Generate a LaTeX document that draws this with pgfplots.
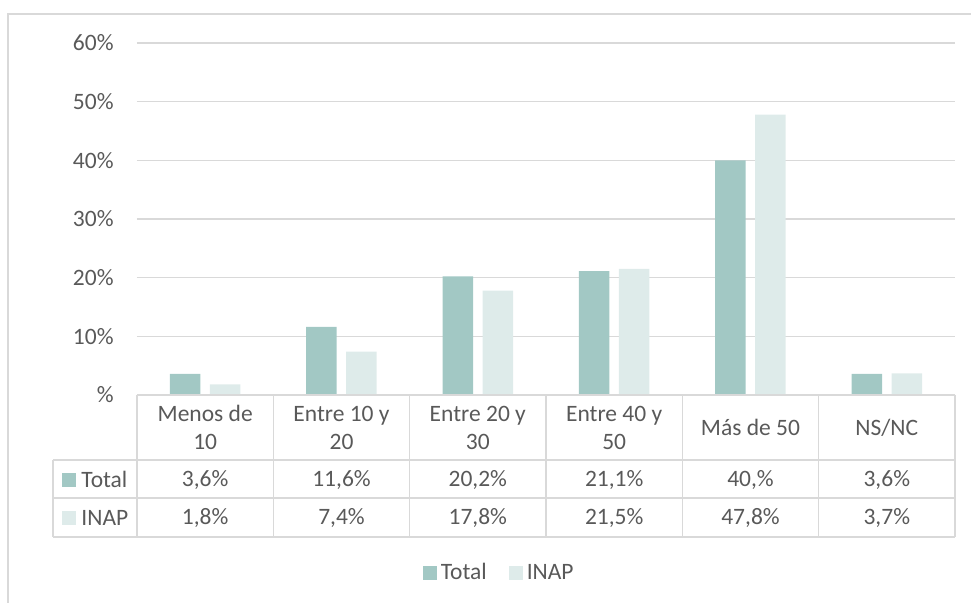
\documentclass[border=0pt]{standalone}
\usepackage{pgfplots}
\pgfplotsset{compat=1.18}
\usepackage{fontspec}
\setmainfont{Carlito}
\definecolor{totc}{HTML}{A2C8C4}
\definecolor{inapc}{HTML}{DEEBEA}
\definecolor{txt}{HTML}{595959}
\definecolor{grd}{HTML}{D9D9D9}
\newcommand{\f}{\fontsize{11.75}{14}\selectfont}
\begin{document}
\begin{tikzpicture}
\path[use as bounding box] (0,0) rectangle (485.5pt,-301.5pt);
% outer frame (left and top visible)
\draw[grd, line width=0.75pt] (4pt,-301.5pt) -- (4pt,-7pt) -- (485.5pt,-7pt);
\begin{axis}[
  at={(68.5pt,-197.5pt)}, anchor=south west,
  scale only axis, width=409pt, height=176pt,
  xmin=-0.5, xmax=5.5, ymin=0, ymax=60,
  xtick=\empty,
  ytick={0,10,...,60},
  yticklabels={\%,10\%,20\%,30\%,40\%,50\%,60\%},
  ymajorgrids, major grid style={draw=grd, line width=0.75pt},
  axis line style={draw=none},
  major tick length=0pt,
  /pgf/number format/assume math mode=true,
  yticklabel style={font=\f, text=txt, inner sep=0pt, xshift=-11.5pt},
  legend style={at={(0.444,-0.506)}, anchor=center, draw=none, fill=none,
    legend columns=2, font=\f, text=txt,
    /tikz/every even column/.append style={column sep=9pt}},
  legend cell align=left,
]
\addplot[ybar, bar shift=-10pt, bar width=15.25pt, fill=totc, draw=none,
  legend image code/.code={\fill[totc] (0pt,-3.5pt) rectangle (7pt,3.5pt);}]
  coordinates {(0,3.6) (1,11.6) (2,20.2) (3,21.1) (4,40.0) (5,3.6)};
\addplot[ybar, bar shift=10pt, bar width=15.25pt, fill=inapc, draw=none,
  legend image code/.code={\fill[inapc] (0pt,-3.5pt) rectangle (7pt,3.5pt);}]
  coordinates {(0,1.8) (1,7.4) (2,17.8) (3,21.5) (4,47.8) (5,3.7)};
\legend{Total, INAP}
\end{axis}
\begin{scope}[x=0.5pt, y=-0.5pt]
  % table lines
  \draw[grd, line width=0.75pt] (137,395) -- (955,395);
  \foreach \yy in {460,498,537} \draw[grd, line width=0.75pt] (53,\yy) -- (955,\yy);
  \draw[grd, line width=0.75pt] (53,460) -- (53,537);
  \foreach \xx in {137,273.33,409.67,546,682.33,818.67,955}
    \draw[grd, line width=0.75pt] (\xx,395) -- (\xx,537);
  % header
  \tikzset{cell/.style={font=\f, text=txt, align=center, inner sep=0pt}}
  \node[cell] at (205.2,427.5) {Menos de\\10};
  \node[cell] at (341.5,427.5) {Entre 10 y\\20};
  \node[cell] at (477.8,427.5) {Entre 20 y\\30};
  \node[cell] at (614.2,427.5) {Entre 40 y\\50};
  \node[cell] at (750.5,427.5) {Más de 50};
  \node[cell] at (886.8,427.5) {NS/NC};
  % rows
  \fill[totc] (62,473) rectangle (76,487);
  \node[cell, anchor=west] at (81,479.5) {Total};
  \fill[inapc] (62,511) rectangle (76,525);
  \node[cell, anchor=west] at (81,517.5) {INAP};
  \foreach \xx/\v in {205.2/3{,}6\%,341.5/11{,}6\%,477.8/20{,}2\%,614.2/21{,}1\%,750.5/40{,}\%,886.8/3{,}6\%}
    \node[cell] at (\xx,479.5) {\v};
  \foreach \xx/\v in {205.2/1{,}8\%,341.5/7{,}4\%,477.8/17{,}8\%,614.2/21{,}5\%,750.5/47{,}8\%,886.8/3{,}7\%}
    \node[cell] at (\xx,517.5) {\v};
\end{scope}
\end{tikzpicture}
\end{document}
